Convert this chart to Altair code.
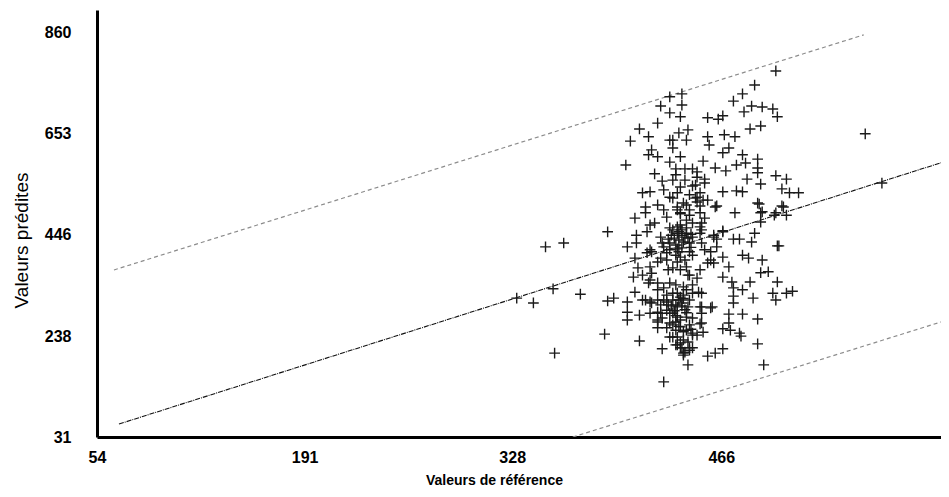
import altair as alt
import pandas as pd

# Axis tick labels
x_ticks = [54, 191, 328, 466]
y_ticks = [31, 238, 446, 653, 860]

# Scatter points (valeur de référence, valeur prédite)
outliers = [(331,316),(342,306),(350,421),(362,429),(355,335),(356,203),(373,324),(389,242),(391,310),(395,316),
            (391,452),(403,589),(404,287),(404,271),(412,228),(428,144),(427,212),(444,179),(561,653),(572,552),(494,179)]

upper = [(432,729),(440,735),(440,712),(426,710),(432,696),(439,688),(424,675),(412,663),(406,638),(418,647),
         (432,640),(438,655),(444,661),(443,640),(434,624),(420,620),(418,610),(424,606),(439,606),(432,595),
         (454,597),(462,583),(442,581),(447,581),(436,581),(422,571),(427,556),(434,558),(442,558),(450,564),
         (455,560),(447,546),(428,538),(414,532),(419,534),(452,532),(432,523),(449,521),(457,517),(424,507),
         (416,503),(437,503),(443,507),(452,505),(463,505),(409,480),(416,491),(422,470),(430,482),(439,491),
         (445,486),(452,462),(417,452),(410,445),(426,441),(437,449),(440,445),(443,449),(447,441),(453,429),
         (428,421),(404,421),(410,429),(420,411),(430,409),(438,411),(445,411),(455,415),(461,441)]

right_upper = [(502,782),(488,753),(480,735),(474,720),(486,710),(493,708),(500,704),(503,688),(481,698),(457,686),
               (464,683),(467,690),(485,663),(492,669),(457,647),(468,651),(475,647),(458,630),(467,614),(471,624),
               (480,610),(469,577),(476,589),(482,593),(490,601),(490,583),(483,560),(490,573),(492,550),(502,567),
               (509,560),(506,540),(511,532),(517,532),(467,534),(476,536),(480,534),(455,552),(454,517),(462,503),
               (491,509),(507,503),(475,491),(492,491),(501,486),(509,486),(492,472),(455,480),(453,456),(467,454),
               (488,449),(474,437),(478,437),(486,431),(463,437),(503,423),(434,640),(450,575),(436,569),(449,548),
               (439,544),(437,532),(445,528),(450,523),(434,521),(441,511),(450,513),(437,497),(439,489),(445,497),
               (452,491),(443,476),(453,470),(437,462),(467,452),(493,493),(502,491),(490,511),(506,505)]

right_lower = [(459,411),(467,400),(480,404),(484,398),(493,394),(457,388),(471,380),(492,368),(497,370),(467,359),
               (473,349),(485,349),(503,349),(474,337),(480,333),(500,326),(509,326),(513,330),(453,326),(487,316),
               (502,312),(474,320),(453,298),(460,298),(474,306),(471,283),(480,283),(490,273),(453,265),(471,265),
               (467,253),(472,250),(454,246),(478,244),(479,238),(490,222),(457,197),(462,203),(467,212),(504,423),
               (461,445),(452,449),(463,421),(461,388),(452,263),(447,240),(450,240),(441,230),(437,236),(436,220),
               (439,214),(442,205),(441,199),(445,214)]

middle = [(417,409),(439,400),(447,404),(459,394),(443,380),(452,374),(409,398),(411,378),(408,359),(414,363),
          (420,367),(418,347),(424,333),(432,347),(441,339),(447,343),(450,357),(444,363),(434,326),(439,318),
          (447,326),(451,328),(424,312),(428,312),(431,302),(436,302),(440,306),(444,298),(452,298),(420,306),
          (416,312),(409,328),(424,287),(432,285),(437,277),(443,277),(447,275),(453,285),(459,296),(424,267),
          (424,255),(430,255),(434,261),(439,257),(443,250),(447,244),(439,224),(445,209),(441,203),(440,214),
          (447,214),(419,415),(427,429),(432,415),(426,398),(430,394),(437,390),(424,390),(419,380),(431,374),
          (434,378),(419,353),(424,347),(437,326),(428,337),(404,308),(414,312),(419,308),(426,302),(430,308),
          (434,312),(437,298),(412,281),(419,285),(426,285),(430,291),(434,285),(424,271),(432,265),(436,250),
          (434,236),(437,220)]

dense = [(435,439),(438,435),(441,431),(444,439),(436,425),(440,419),(434,456),(443,460),(445,429),(439,466),
         (432,429),(436,404),(442,394),(439,374),(445,363),(436,343),(443,333),(441,322),(438,312),(445,312),
         (442,292),(439,271),(445,261),(441,247),(436,267),(430,322),(427,275),(444,226),(432,236),(428,497),
         (419,466),(447,470),(432,460),(438,452),(442,441),(446,447),(433,445),(440,456),(446,420),(431,437),
         (437,417),(440,300),(435,290),(443,286),(438,258),(446,252),(433,300),(441,315),(436,280)]

# Regression line and prediction bounds (end points)
reg_x = [68.5, 611]
reg_y = [57.6, 593.6]
up_x = [65.2, 560]
up_y = [373.7, 856]
lo_x = [368, 611]
lo_y = [31, 267]

pts = outliers + upper + right_upper + right_lower + middle + dense
df = pd.DataFrame(pts, columns=["ref", "pred"])
reg_df = pd.DataFrame({"ref": reg_x, "pred": reg_y})
up_df = pd.DataFrame({"ref": up_x, "pred": up_y})
lo_df = pd.DataFrame({"ref": lo_x, "pred": lo_y})

xs = alt.Scale(domain=[54, 611], nice=False, zero=False)
ys = alt.Scale(domain=[31, 907], nice=False, zero=False)

LBL_FONT = "Liberation Sans"

x_axis = alt.Axis(values=x_ticks, title="Valeurs de référence", ticks=False, tickSize=0, grid=False,
                  domainColor="black", domainWidth=3, labelFont=LBL_FONT, labelFontSize=16,
                  labelFontWeight="bold", labelColor="black", labelPadding=12, labelFlush=False,
                  labelOverlap=False, titleFont=LBL_FONT, titleFontSize=14, titleFontWeight="bold",
                  titleColor="black", titleX=397, titleY=43, titleBaseline="middle", titleAlign="center")
y_axis = alt.Axis(values=y_ticks, title="Valeurs prédites", ticks=False, tickSize=0, grid=False,
                  domainColor="black", domainWidth=3, labelFont=LBL_FONT, labelFontSize=16,
                  labelFontWeight="bold", labelColor="black", labelPadding=26, labelFlush=False,
                  labelOverlap=False, labelBaseline="middle", titleFont=LBL_FONT, titleFontSize=19,
                  titleFontWeight="normal", titleColor="black", titleX=-76, titleY=230, titleAngle=270,
                  titleAlign="center", titleBaseline="middle")

def enc(chart):
    return chart.encode(x=alt.X("ref:Q", scale=xs, axis=x_axis),
                        y=alt.Y("pred:Q", scale=ys, axis=y_axis))

reg = enc(alt.Chart(reg_df).mark_line(color="#111111", strokeWidth=1.1, strokeDash=[5, 1, 1, 1], clip=True))
up = enc(alt.Chart(up_df).mark_line(color="#8c8c8c", strokeWidth=1.2, strokeDash=[4, 3], clip=True))
lo = enc(alt.Chart(lo_df).mark_line(color="#8c8c8c", strokeWidth=1.2, strokeDash=[4, 3], clip=True))

cross = "M-1,0L1,0M0,-1L0,1"
points = enc(alt.Chart(df).mark_point(shape=cross, filled=False, size=115, strokeWidth=1.4,
                                      color="#1a1a1a", opacity=1, clip=True))

chart = alt.layer(reg, up, lo, points).properties(
    width=844, height=427,
    autosize=alt.AutoSizeParams(type="none"),
    padding={"left": 89, "top": 2, "right": 0, "bottom": 52},
    background="white",
).configure_view(stroke=None)

chart.save("out.html", embed_options={"renderer": "svg", "actions": False})
